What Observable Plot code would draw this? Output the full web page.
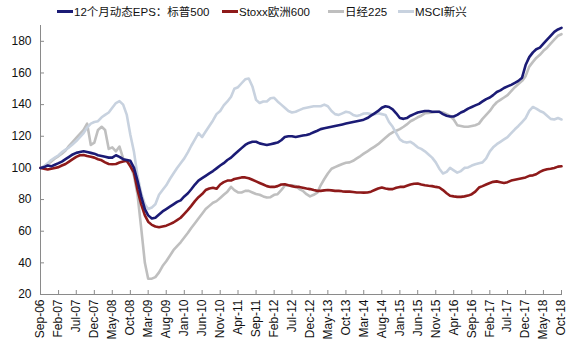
<!DOCTYPE html>
<html><head><meta charset="utf-8">
<script src="https://cdn.jsdelivr.net/npm/d3@7"></script>
<script src="https://cdn.jsdelivr.net/npm/@observablehq/plot@0.6"></script>
<style>
body{margin:0;background:#fff;font-family:"Liberation Sans",Arial,"Noto Sans CJK SC",sans-serif;}
#legend{position:relative;height:24px;width:573px;font-size:11.5px;color:#111;}
.item{position:absolute;top:0;height:24px;line-height:24px;white-space:nowrap;}
.sw{display:inline-block;width:16px;height:3px;vertical-align:middle;margin-right:1px;position:relative;top:-1px;}
</style></head><body>
<div id="legend"></div><div id="chart"></div>
<script>
const seriesNames = ["12个月动态EPS：标普500", "Stoxx欧洲600", "日经225", "MSCI新兴"];
const seriesColors = ["#1b1b75", "#8e1a1a", "#bfbfbf", "#c8d2df"];
const startDate = [2006, 8]; // Sep 2006, monthly points
const yTicks = [20, 40, 60, 80, 100, 120, 140, 160, 180];
const tickEveryMonths = 5;

const sp500 = [
100,100.5,101.5,101,102,103,104,105.5,107,108.5,
109.5,110,110.5,110,109.5,109,108,107.5,107,106.5,
106.5,108,107,105.5,105,104.5,100,91.8,82,74,
70,68,68.5,70.5,72.5,74,75.5,77,78.5,79.5,
82,84,86.5,89.5,92,93.5,95,96.5,98,99.7,
101.5,103,105,106.5,108.5,110.5,112.5,114.5,115.8,116.5,
116.5,115.5,115,114.5,115,115.5,116,117.5,119.5,120,
120,119.5,120,120.5,120.8,121.5,122.5,123.5,124.5,125,
125.5,126,126.5,127,127.5,128,128.5,129,129.5,130,
130.5,131.5,133,134.5,136,138,139,138.5,137,134.5,
131.5,131,131.5,133,134,135,135.5,136,136,135.5,
135.5,135.5,134,133,132.5,132.5,133.5,135,136,137.5,
138.5,139.5,140.5,142,143.5,144.5,146,148,149,150.5,
151.5,152.5,153.7,155,157,165,170,173,175,176,
178.5,181,183.5,186,187.5,188.5];

const stoxx600 = [
100,99.5,99,99.5,100,100.5,101.5,102.5,104,105.5,
107,108,108.2,107.5,107,106.5,105.5,104.8,103.5,102.5,
102.3,102.5,103.4,104,104.5,101,97,86,77,70,
66,64,63,62.5,63,63.5,64.5,65.5,67,68.5,
71,73.5,76,79,81.5,83.5,86,87,87.5,86.8,
89.5,91,92,92,93,93.5,94,94,93.5,92.5,
91.5,90.5,89.5,88.5,88,88,88.5,89.5,89.7,89,
88.5,88,88,87.5,87,86.6,86,85.5,85.5,85.8,
86,85.8,85.5,85.5,85.2,85,85,84.8,84.5,84.5,
84.4,84.5,85,86,87,87.6,87,86.6,86.6,87.5,
88,88,88.7,89.5,90,90.1,89.5,89,88.7,88.5,
88,87.6,86,84,82.4,82,81.7,81.7,82,82.5,
83.4,85,87.6,88.5,89.5,90.5,91.2,91.5,91,90.5,
91,92,92.5,93,93.5,94,95,95.3,96,97.5,
98.5,99.2,99.5,100,100.8,101];

const nikkei225 = [
100,101,102.5,104,106,107.5,109,111,114,116.5,
119,121.5,124,128,114.5,116,124,126,124,112,
113,110.5,113.5,106,104,102,95,83,62,40,
30,30,31,34,38,41,44.5,48,50.5,53,
56,59,62,65,68,71,74,76,78,79,
81,83,85,88,86,84.5,84.5,85.5,85.5,84.5,
83.5,83,82,81.3,81.5,83,83.4,86,88.7,89,
89,88.5,86.6,85.5,83.4,82,83,84.4,89,93,
96.5,99.5,100.5,101.5,102.5,103.3,103.5,104.5,106,107.5,
109,110.5,112,113.5,115,117,119,121,122.5,123.5,
124.5,126,127.5,129.5,130.6,132,133,134.5,134.8,135,
135.3,135.5,135,134,132.8,130.6,127,126.5,126,126,
126.5,127,128,131,133.5,136,139,141.5,143,144.5,
146,148.5,151,153,155,158,164,167,169.5,171.5,
174,176,178.5,181,183.5,184.5];

const msciEM = [
100,101,103,105,106.5,108,110,111.5,113,115,
117,119.5,122,125.5,128,129,129.5,132,133.5,135,
138,141,142.2,140,133.5,121,110,95,84,77,
74,75,77,83,86,89,93,96.5,100,103,
106,110,114,118,122,119.5,123,126.5,130,134,
136,139.5,142,145,150,151,153.5,156,156.5,151.5,
143,141,142,142,144,144.3,142,140,138,136,
135,135.5,136.5,137.5,138,138.5,139,139,139,140,
139,136,134,133.5,134.5,135.5,135,133.5,132.8,133.5,
134.4,134.5,134,134,134.5,134,133.5,129,126,122,
118,116.5,116,116.5,115,113,112,110.5,108.5,106.5,
103.5,99.5,96.5,97.5,100,98.5,97,98,100,100.3,
101.5,102.3,103,103.5,106,110.5,113,115,116.5,118,
119.5,122,124.4,126.5,129,131.5,136,138.5,137.5,136,
135,133,131,130.6,131.5,130.6];

const allSeries = [sp500, stoxx600, nikkei225, msciEM];
const monthDate = m => new Date(Date.UTC(startDate[0], startDate[1] + m, 1));
const rows = [];
allSeries.forEach((arr, s) => arr.forEach((v, m) => rows.push({series: seriesNames[s], date: monthDate(m), value: v})));
const nMonths = sp500.length;
const xTicks = d3.range(0, nMonths, tickEveryMonths).map(monthDate);
const drawOrder = [2, 3, 1, 0];

// legend
const legendPos = [57, 222, 328, 398];
const legend = document.getElementById("legend");
seriesNames.forEach((name, i) => {
  const it = document.createElement("div");
  it.className = "item";
  it.style.left = legendPos[i] + "px";
  it.innerHTML = `<span class="sw" style="background:${seriesColors[i]}"></span>${name}`;
  legend.appendChild(it);
});

const axisColor = "#8a8a8a";
const chart = Plot.plot({
  width: 573,
  height: 327,
  marginTop: 1,
  marginBottom: 57,
  marginLeft: 40,
  marginRight: 12,
  style: {fontFamily: "'Liberation Sans', Arial, sans-serif", fontSize: "12px", color: "#111", background: "#fff"},
  x: {type: "utc", domain: [monthDate(0), monthDate(nMonths - 1)]},
  y: {domain: [20, 190]},
  color: {domain: seriesNames, range: seriesColors},
  marks: [
    Plot.frame({anchor: "left", stroke: axisColor}),
    Plot.frame({anchor: "bottom", stroke: axisColor}),
    Plot.axisY({ticks: yTicks, tickSize: -4, stroke: axisColor, tickFormat: () => "", label: null}),
    Plot.axisY({ticks: yTicks, tickSize: 0, tickPadding: 9, label: null}),
    Plot.axisX({ticks: xTicks, tickSize: -4, stroke: axisColor, tickFormat: () => "", label: null}),
    Plot.axisX({ticks: xTicks, tickSize: 0, tickPadding: 5, tickRotate: -90, tickFormat: d3.utcFormat("%b-%y"), label: null}),
    ...drawOrder.map(i => Plot.line(rows.filter(r => r.series === seriesNames[i]), {
      x: "date", y: "value", stroke: seriesColors[i], strokeWidth: 2.6, curve: "linear"
    }))
  ]
});
document.getElementById("chart").appendChild(chart);
</script>
</body></html>
